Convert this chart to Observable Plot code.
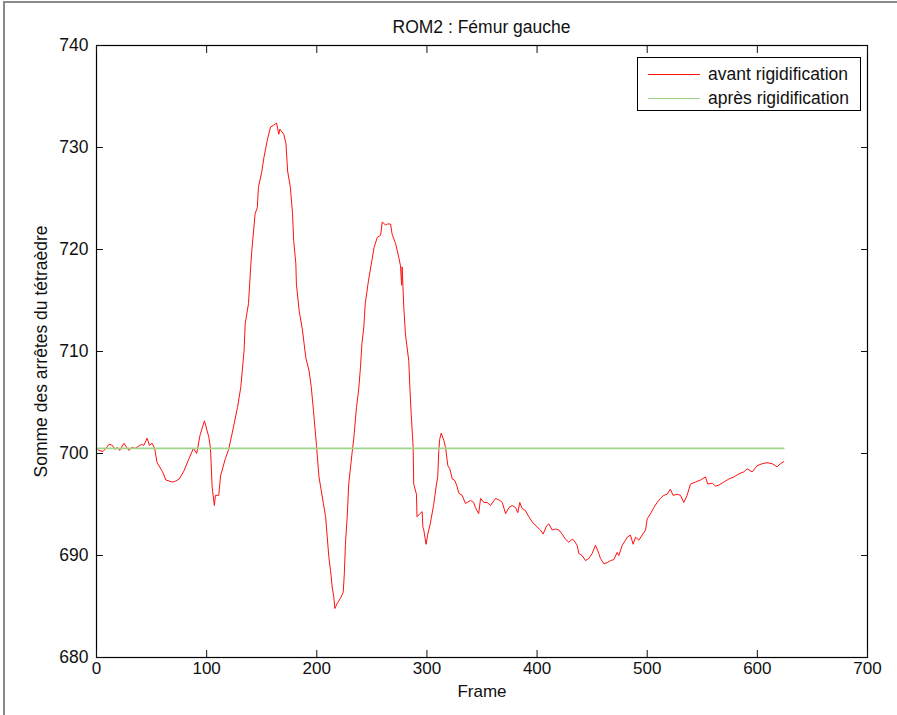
<!DOCTYPE html>
<html>
<head>
<meta charset="utf-8">
<script src="https://cdn.jsdelivr.net/npm/d3@7"></script>
<script src="https://cdn.jsdelivr.net/npm/@observablehq/plot@0.6"></script>
<style>
  html, body { margin: 0; padding: 0; background: #fff; }
  #wrap { position: relative; width: 897px; height: 715px; overflow: hidden; font-family: "Liberation Sans", Arial, sans-serif; }
  #border { position: absolute; left: 3px; top: 1px; width: 1000px; height: 1000px; border-left: 2px solid #8a8a8a; border-top: 2px solid #8a8a8a; pointer-events: none; }
  #title { position: absolute; left: 96px; width: 771px; top: 19px; text-align: center; font-size: 17.5px; line-height: 1; color: #111; }
  #legend { position: absolute; left: 637px; top: 57px; width: 222px; height: 52px; border: 1px solid #000; background: #fff; }
  .li { position: absolute; left: 0; height: 20px; display: flex; align-items: center; font-size: 17.5px; color: #111; }
  .li span.sw { display: inline-block; width: 52px; height: 0; margin-left: 10px; margin-right: 8px; }
</style>
</head>
<body>
<div id="wrap">
  <div id="chart"></div>
  <div id="border"></div>
  <div id="title"></div>
  <div id="legend"></div>
</div>
<script>
const titleText = "ROM2 : Fémur gauche";
const xLabel = "Frame";
const yLabel = "Somme des arrêtes du tétraèdre";
const seriesNames = ["avant rigidification", "après rigidification"];
const seriesColors = ["#ff1010", "#9fd48a"];
const xTicks = [0, 100, 200, 300, 400, 500, 600, 700];
const yTicks = [680, 690, 700, 710, 720, 730, 740];

// avant rigidification
const avantFrames = [0,2,6,8.4,11.4,14.4,16.8,19,21,25,28,29.5,32,35,38,41,43,46,48,50.5,52.8,55,60,63,66,69,72,75,79,84,88,91,94,98,102,103.5,105,107,108,111,112.6,117,120,123,128,131,134,135,138,140,141,144,146,147,150,152,155,158,161,163.5,165.5,166.5,170,172,173.5,176,178,179,181,181.5,184,187,190,193,195,197,199.7,202,206,208,209.5,211,212.5,214,215.5,216.4,218.5,221.5,224,225,226,227.6,229,232,233.7,236,238,239.7,241,242.7,244,247,250,252,255,258,259.4,262.4,264,267,268.4,271.5,274.5,276,277,277.5,279,280.5,283.5,284.5,285.7,287.5,288,290.5,291,293.6,295.7,296.3,297,299.2,300.8,303,306,308.7,309.8,310.8,311.6,313,315.3,316.9,319,320.8,323,325,327,329,332,335,339.6,342.5,344,347,348.7,351.7,354.7,357.7,362.3,366.2,368.4,371.4,374.4,377.4,380.4,382.5,384.3,386.5,389.5,392.5,395.6,400,403,405.5,408.6,410.7,413.7,416.7,419.7,422.8,425.8,428.8,431.9,433.3,436.4,437.9,440.9,443.9,446.9,450,453,455,457.6,460.6,463.7,466.7,469.7,472.7,474.2,477.3,480.3,481.8,484.8,487.2,489.4,492.4,495.4,498.5,500,503,506,509,512,515,518,521,523.5,527.1,530.2,533.2,536.2,539.3,543.8,548.4,552.9,555,559,562,565,569.6,574.1,578.7,583.2,587.7,590.7,595.3,599.8,604.4,608.9,613.4,617.9,621,624];
const avantValues = [700.6,700.3,700.2,700.5,700.9,700.8,700.4,700.6,700.3,701.0,700.5,700.3,700.6,700.5,700.7,700.9,700.8,701.5,700.8,701.0,700.5,699.1,698.2,697.4,697.3,697.2,697.3,697.5,698.2,699.5,700.5,700.0,701.8,703.2,701.6,700.5,696.7,694.9,695.9,695.9,697.8,699.5,700.4,701.9,704.5,706.5,710.1,712.7,714.7,718.3,719.9,723.5,724.1,726.1,727.6,729.0,730.7,732.0,732.2,732.4,731.3,731.8,731.3,730.4,727.7,726.1,723.5,720.9,718.6,716.6,714.0,712.1,709.4,708.1,706.5,704.2,700.8,697.7,695.1,693.8,691.8,689.8,688.5,686.9,685.9,684.8,685.3,685.8,686.4,688.2,691.1,693.8,697.0,700.0,701.6,704.5,706.2,708.5,710.8,712.4,714.7,717.0,718.9,720.2,721.2,721.4,722.7,722.4,722.5,722.5,721.5,720.6,719.2,718.4,716.5,718.3,714.3,711.7,709.1,706.5,703.9,700.6,697.0,696.0,693.8,694.1,694.3,692.8,692.6,691.1,692.1,693.1,694.9,697.0,697.7,700.3,701.4,702.0,701.3,700.6,698.8,698.5,697.5,697.4,696.9,696.1,695.9,695.1,695.4,695.2,694.7,694.1,695.6,695.2,695.2,694.9,695.6,695.4,695.2,694.1,694.7,694.9,694.7,694.2,695.2,694.6,694.4,693.8,693.3,692.8,692.5,692.1,692.9,693.1,692.5,692.6,692.5,692.1,691.6,691.3,691.6,691.5,691.0,690.2,690.0,689.5,689.7,690.2,691.0,690.5,689.7,689.2,689.3,689.5,689.6,690.3,690.0,691.0,691.5,691.8,692.0,691.1,691.8,691.5,692.0,692.5,693.6,694.1,694.7,695.2,695.6,695.9,696.0,696.5,695.9,696.0,695.9,695.2,695.9,697.0,697.2,697.4,697.7,697.0,697.1,696.8,696.9,697.2,697.5,697.7,698.0,698.2,698.5,698.2,698.8,699.0,699.1,699.0,698.7,699.0,699.2];

// après rigidification
const apresFrames = [0, 624];
const apresValues = [700.5, 700.5];

const avant = avantFrames.map((f, i) => ({frame: f, value: avantValues[i]}));
const apres = apresFrames.map((f, i) => ({frame: f, value: apresValues[i]}));

const chart = Plot.plot({
  width: 897,
  height: 715,
  marginLeft: 96,
  marginRight: 30,
  marginTop: 45,
  marginBottom: 58,
  style: {fontFamily: "'Liberation Sans', Arial, sans-serif", fontSize: "17px", color: "#111", background: "#fff", overflow: "visible"},
  x: {domain: [0, 700]},
  y: {domain: [680, 740]},
  marks: [
    Plot.line(avant, {x: "frame", y: "value", stroke: seriesColors[0], strokeWidth: 1}),
    Plot.line(apres, {x: "frame", y: "value", stroke: seriesColors[1], strokeWidth: 1.6}),
    Plot.frame({stroke: "#000", strokeWidth: 1.2}),
    Plot.axisX({anchor: "bottom", ticks: xTicks, tickSize: -7, tickPadding: 11, label: xLabel, labelAnchor: "center", labelOffset: 39, labelArrow: "none", fontSize: 17}),
    Plot.axisX({anchor: "top", ticks: xTicks, tickSize: -7, tickFormat: () => "", label: null}),
    Plot.axisY({anchor: "left", ticks: yTicks, tickSize: -7, tickPadding: 15, label: yLabel, labelAnchor: "center", labelOffset: 62, labelArrow: "none", fontSize: 17.5}),
    Plot.axisY({anchor: "right", ticks: yTicks, tickSize: -7, tickFormat: () => "", label: null})
  ]
});
document.getElementById("chart").appendChild(chart);
document.getElementById("title").textContent = titleText;

const legend = document.getElementById("legend");
seriesNames.forEach((name, i) => {
  const row = document.createElement("div");
  row.className = "li";
  row.style.top = (6 + i * 24) + "px";
  const sw = document.createElement("span");
  sw.className = "sw";
  sw.style.borderTop = "1.5px solid " + seriesColors[i];
  row.appendChild(sw);
  const t = document.createElement("span");
  t.textContent = name;
  row.appendChild(t);
  legend.appendChild(row);
});
</script>
</body>
</html>
